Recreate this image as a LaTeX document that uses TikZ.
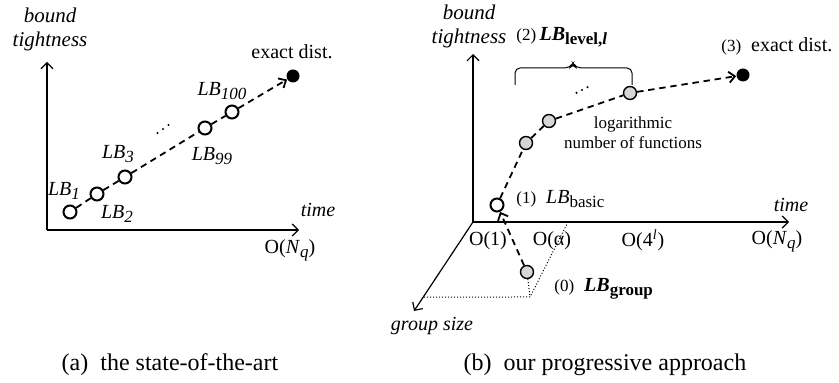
\documentclass[tikz,border=0pt]{standalone}
\usepackage{fontspec}
\setmainfont{Liberation Serif}
\usepackage{xcolor}
\usepackage{tikz}
\usetikzlibrary{
calc,
positioning,
arrows.meta
}
\definecolor{dotgray}{HTML}{D6D6D6}
\definecolor{ink}{HTML}{000000}

\newcommand{\lbsub}[1]{\raisebox{-0.45ex}{\fontsize{8.5}{9}\selectfont #1}}
\newcommand{\lbit}[1]{\textit{LB}\lbsub{#1}}
\newcommand{\stepno}[1]{{\fontsize{8.5}{9}\selectfont (#1)}}

\tikzset{
axis/.style={
-{Straight Barb[length=3pt,width=6pt]},
line width=0.6pt,
draw=ink
},
lbdash/.style={
dash pattern=on 3.2pt off 2.4pt,
line width=0.9pt,
-{Straight Barb[length=3pt,width=5.5pt,line width=0.9pt]}
},
hollow/.style={
circle,
draw=ink,
line width=1pt,
fill=white,
minimum size=6.5pt,
inner sep=0pt
},
graydot/.style={
circle,
draw=ink,
line width=0.7pt,
fill=dotgray,
minimum size=6.5pt,
inner sep=0pt
},
exact/.style={
circle,
fill=ink,
minimum size=6.5pt,
inner sep=0pt
},
guide/.style={
densely dotted,
line width=0.5pt
},
bracket/.style={
line width=0.5pt,
rounded corners=2.5pt
},
lbl/.style={
inner sep=0pt,
font=\fontsize{10}{12}\selectfont
},
axlbl/.style={
inner sep=0pt,
align=center,
font=\fontsize{10.5}{12}\itshape
},
caption/.style={
inner sep=0pt,
font=\fontsize{12}{14}\selectfont
}
}

\begin{document}
\begin{tikzpicture}[x=0.5pt,y=-0.5pt]

\useasboundingbox (0,0) rectangle (839,383);

\coordinate (aO) at (47,230);
\coordinate (aY) at (47,62);
\coordinate (aX) at (299,230);

\draw[axis] (aO) -- (aY);
\draw[axis] (aO) -- (aX);

\node[
axlbl
]
(aytitle) at (50,29)
{
bound\\tightness
};

\node[
lbl,
font=\fontsize{10}{12}\itshape
]
(axtitle) at (318,210)
{
time
};

\node[
lbl
]
(axtick) at (290,250)
{
O(\textit{N}\lbsub{\textit{q}})
};

\node[hollow] (a1) at (70,212) {};
\node[hollow] (a2) at (97,194) {};
\node[hollow] (a3) at (125,177) {};
\node[hollow] (a99) at (205,128) {};
\node[hollow] (a100) at (232,112) {};
\node[exact] (adist) at (293,76) {};

\draw[lbdash] (a1) -- (a2) -- (a3) -- (a99) -- (a100) -- (adist);

\node[
lbl
]
(alb1) at (64,191)
{
\lbit{\textit{1}}
};

\node[
lbl
]
(alb2) at (117,214)
{
\lbit{\textit{2}}
};

\node[
lbl
]
(alb3) at (118,154)
{
\lbit{\textit{3}}
};

\node[
lbl
]
(alb99) at (212,156)
{
\lbit{\textit{99}}
};

\node[
lbl
]
(alb100) at (222,91)
{
\lbit{\textit{100}}
};

\foreach \k in {-1,0,1}
\fill[ink] ({163+5.5*\k},{129-4*\k}) circle (0.6pt);

\node[
lbl
]
(adisttxt) at (292,52)
{
exact dist.
};

\node[
caption
]
(acap) at (170,365)
{
(a)\enspace the state-of-the-art
};

\coordinate (bO) at (473,222);
\coordinate (bY) at (473,54);
\coordinate (bX) at (789,222);
\coordinate (bZ) at (414,311);
\coordinate (balpha) at (568,222);
\coordinate (bcorner) at (530,297);
\coordinate (bzfoot) at ($(bO)!0.843!(bZ)$);

\draw[axis] (bO) -- (bY);
\draw[axis] (bO) -- (bX);
\draw[axis] (bO) -- (bZ);

\node[
axlbl
]
(bytitle) at (469,26)
{
bound\\tightness
};

\node[
lbl,
font=\fontsize{10}{12}\itshape
]
(bxtitle) at (791,205)
{
time
};

\node[
lbl,
font=\fontsize{10}{12}\itshape
]
(bztitle) at (432,326)
{
group size
};

\node[lbl] (bt1) at (488,241) {O(1)};
\node[lbl] (bta) at (552,241) {O(α)};
\node[lbl] (bt4) at (643,240) {O(4\textsuperscript{\textit{l}})};
\node[lbl] (btn) at (777,241) {O(\textit{N}\lbsub{\textit{q}})};

\node[graydot] (g0) at (527,272) {};

\draw[guide] (balpha) -- (bcorner) -- (bzfoot);
\draw[guide] (g0) -- (bcorner);

\node[hollow] (b1) at (497,205) {};
\node[graydot] (c1) at (526,143) {};
\node[graydot] (c2) at (549,121) {};
\node[graydot] (c3) at (630,93) {};
\node[exact] (bdist) at (743,75) {};

\draw[lbdash] (g0) -- (b1);
\draw[lbdash] (b1) -- (c1) -- (c2) -- (c3) -- (bdist);

\foreach \k in {-1,0,1}
\fill[ink] ({582+5.5*\k},{90-2.8*\k}) circle (0.6pt);

\coordinate (bbl) at (515,85);
\coordinate (bbr) at (632,85);
\coordinate (btip) at (573,63);

\draw[bracket] (bbl) -- (515,68) -- (570,68) -- (btip) -- (576,68) -- (632,68) -- (bbr);

\node[
lbl,
anchor=west
]
(blevel) at (516,37)
{
\stepno{2}\,\textbf{\textit{LB}\lbsub{level,\textit{l}}}
};

\node[
lbl,
font=\fontsize{8.5}{10}\selectfont,
align=center
]
(blog) at (633,133)
{
logarithmic\\number of functions
};

\node[
lbl,
anchor=west
]
(bbasic) at (516,199)
{
\stepno{1}\enspace\lbit{basic}
};

\node[
lbl,
anchor=west
]
(bgroup) at (554,289)
{
\stepno{0}\enspace\textbf{\textit{LB}\lbsub{group}}
};

\node[
lbl,
anchor=west
]
(bdisttxt) at (721,46)
{
\stepno{3}\enspace exact dist.
};

\node[
caption
]
(bcap) at (605,365)
{
(b)\enspace our progressive approach
};

\end{tikzpicture}
\end{document}
